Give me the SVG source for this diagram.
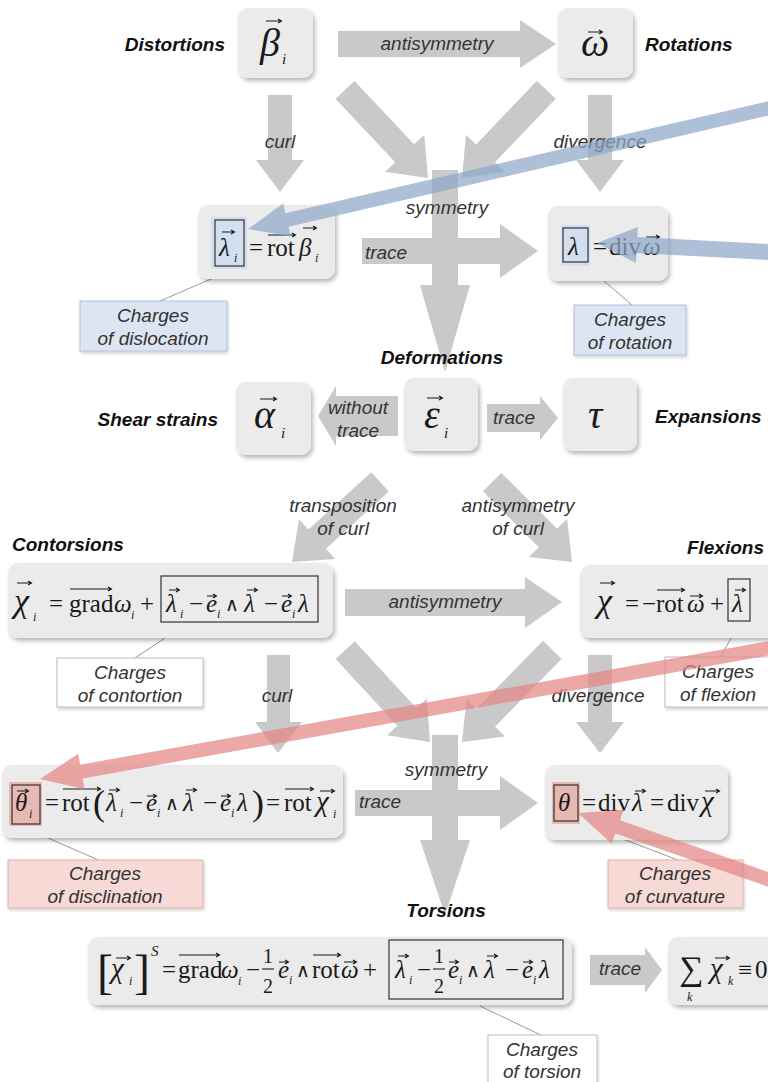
<svg xmlns="http://www.w3.org/2000/svg" width="768" height="1082" viewBox="0 0 768 1082">
<defs>
<filter id="sh" x="-10%" y="-10%" width="125%" height="130%"><feDropShadow dx="2" dy="3" stdDeviation="2" flood-color="#000" flood-opacity="0.28"/></filter>
<filter id="sh2" x="-10%" y="-10%" width="125%" height="130%"><feDropShadow dx="1" dy="2" stdDeviation="1.5" flood-color="#000" flood-opacity="0.18"/></filter>
<style>
.node{fill:#ebebeb;filter:url(#sh)}
.ga{fill:#c9c9c9}
.ba{fill:#8ea8c8;opacity:0.72}
.ra{fill:#e58585;opacity:0.72}
.lbl{font-family:"Liberation Sans",Arial,sans-serif;font-style:italic;font-size:19px;fill:#333;text-anchor:middle}
.ttl{font-family:"Liberation Sans",Arial,sans-serif;font-style:italic;font-weight:bold;font-size:19px;fill:#111}
.m{font-family:"Liberation Serif","Times New Roman",serif;font-size:25px;fill:#1a1a1a}
.w{font-family:"DejaVu Serif","Liberation Serif",serif;font-size:19px;fill:#1a1a1a}
.i{font-style:italic}
.s{font-family:"Liberation Serif","Times New Roman",serif;font-size:12px;font-style:italic;fill:#1a1a1a}
.big{font-size:40px}
.x{font-size:34px}
.xs{font-size:29px}
.br{font-size:48px}
.fr{font-size:20px}
.s15{font-size:15px}
.par{font-size:36px}
.vec{stroke:#1a1a1a;stroke-width:1.1;fill:none}
.bx{fill:none;stroke:#333;stroke-width:1.2}
.lead{stroke:#9a9a9a;stroke-width:1;fill:none}
.cb{fill:#dde5f2;stroke:#b3c0d8;stroke-width:1;filter:url(#sh2)}
.cw{fill:#fff;stroke:#bdbdbd;stroke-width:1;filter:url(#sh2)}
.cp{fill:#f7d9d6;stroke:#e0b2ad;stroke-width:1;filter:url(#sh2)}
</style>
</defs>
<rect width="768" height="1082" fill="#fff"/>

<g id="connectors">
<polygon class="ga" points="338,31 520,31 520,20 556,44 520,68 520,57 338,57"/>
<polygon class="ga" points="268,95 292,95 292,160 304,160 280,192 256,160 268,160"/>
<polygon class="ga" points="588,95 612,95 612,160 624,160 600,192 576,160 588,160"/>
<polygon class="ga" transform="translate(428,178) rotate(46.7)" points="-121,-13 -34,-13 -34,-27 0,0 -34,27 -34,13 -121,13"/>
<polygon class="ga" transform="translate(462,178) rotate(133.7)" points="-122,-13 -34,-13 -34,-27 0,0 -34,27 -34,13 -122,13"/>
<polygon class="ga" points="362,238 500,238 500,224 538,251 500,278 500,264 362,264"/>
<polygon class="ga" points="432,170 458,170 458,285 470,285 445,372 420,285 432,285"/>
<polygon class="ga" points="398,396 398,436 336,436 336,446 318,416 336,386 336,396"/>
<polygon class="ga" points="487,404 540,404 540,396 558,418 540,440 540,432 487,432"/>
<polygon class="ga" transform="translate(292,562) rotate(137.7)" points="-119,-13 -34,-13 -34,-27 0,0 -34,27 -34,13 -119,13"/>
<polygon class="ga" transform="translate(572,562) rotate(45)" points="-113,-13 -34,-13 -34,-27 0,0 -34,27 -34,13 -113,13"/>
<polygon class="ga" points="345,589 525,589 525,577 562,602 525,628 525,616 345,616"/>
<polygon class="ga" points="267,655 290,655 290,722 302,722 278,753 255,722 267,722"/>
<polygon class="ga" points="588,655 612,655 612,722 624,722 600,753 576,722 588,722"/>
<polygon class="ga" transform="translate(430,742) rotate(47.3)" points="-125,-13 -34,-13 -34,-27 0,0 -34,27 -34,13 -125,13"/>
<polygon class="ga" transform="translate(462,742) rotate(134.4)" points="-129,-13 -34,-13 -34,-27 0,0 -34,27 -34,13 -129,13"/>
<polygon class="ga" points="355,790 500,790 500,776 538,803 500,830 500,816 355,816"/>
<polygon class="ga" points="432,735 458,735 458,840 470,840 445,915 420,840 432,840"/>
<polygon class="ga" points="590,955 645,955 645,947 662,970 645,993 645,985 590,985"/>
<path class="lead" d="M218,276 L160,301 M582,262 L632,305 M186,624 L135,658 M740,622 L720,658 M25,828 L103,862 M578,822 L678,860 M480,1006 L545,1037"/>
<text class="lbl" x="437" y="50">antisymmetry</text>
<text class="lbl" x="280" y="148">curl</text>
<text class="lbl" x="600" y="148">divergence</text>
<text class="lbl" x="447" y="214">symmetry</text>
<text class="lbl" x="386" y="259">trace</text>
<text class="lbl" x="358" y="414">without</text>
<text class="lbl" x="358" y="437">trace</text>
<text class="lbl" x="514" y="424">trace</text>
<text class="lbl" x="343" y="512">transposition</text>
<text class="lbl" x="343" y="535">of curl</text>
<text class="lbl" x="518" y="512">antisymmetry</text>
<text class="lbl" x="518" y="535">of curl</text>
<text class="lbl" x="445" y="608">antisymmetry</text>
<text class="lbl" x="277" y="702">curl</text>
<text class="lbl" x="598" y="702">divergence</text>
<text class="lbl" x="446" y="776">symmetry</text>
<text class="lbl" x="380" y="808">trace</text>
<text class="lbl" x="620" y="975">trace</text>
</g>

<g id="distortions">
<text class="ttl" x="225" y="51" text-anchor="end">Distortions</text>
<rect class="node" x="238" y="8" width="75" height="70" rx="10"/>
<text class="m i big" x="260" y="56">β</text><text class="s s15" x="282" y="64">i</text>
<path class="vec" d="M266,21 H281 M278,19 L281.5,21 L278,23"/>
</g>

<g id="rotations">
<rect class="node" x="558" y="8" width="75" height="70" rx="10"/>
<text class="m i big" x="581" y="56">ω</text>
<path class="vec" d="M588,32 H602 M599,30 L602.5,32 L599,34"/>
<text class="ttl" x="645" y="51">Rotations</text>
</g>

<g id="dislocation-density">
<rect class="node" x="198" y="205" width="137" height="74" rx="10"/>
<rect x="211" y="217" width="36" height="52" fill="#d3deef"/>
<rect class="bx" x="215" y="220" width="29" height="46"/>
<text class="m i" x="219" y="256">λ</text><text class="s" x="234" y="262">i</text>
<path class="vec" d="M222,232 H234 M231,230 L234.5,232 L231,234"/>
<text class="m" x="249" y="256">=</text>
<text class="m" x="267" y="256">rot</text>
<path class="vec" d="M268,235 H295 M292,233 L295.5,235 L292,237"/>
<text class="m i" x="299" y="256">β</text><text class="s" x="315" y="262">i</text>
<path class="vec" d="M303,228 H316 M313,226 L316.5,228 L313,230"/>
</g>

<g id="rotation-density">
<rect class="node" x="548" y="206" width="120" height="75" rx="10"/>
<rect x="561" y="225" width="29" height="41" fill="#d3deef"/>
<rect class="bx" x="563" y="228" width="25" height="34"/>
<text class="m i" x="568" y="255">λ</text>
<text class="m" x="593" y="255" fill="#777">=</text>
<text class="m" x="609" y="255" fill="#777">div</text>
<text class="m i" x="643" y="255" fill="#777">ω</text>
<path class="vec" d="M646,237 H659 M656,235 L659.5,237 L656,239"/>
</g>

<g id="charges-dislocation">
<rect class="cb" x="80" y="301" width="147" height="50"/>
<text class="lbl" x="153" y="322">Charges</text>
<text class="lbl" x="153" y="345">of dislocation</text>
</g>

<g id="charges-rotation">
<rect class="cb" x="574" y="305" width="112" height="50"/>
<text class="lbl" x="630" y="326">Charges</text>
<text class="lbl" x="630" y="349">of rotation</text>
</g>

<g id="deformations">
<text class="ttl" x="442" y="364" text-anchor="middle">Deformations</text>
<rect class="node" x="404" y="378" width="74" height="73" rx="10"/>
<text class="m i big" x="424" y="428">ε</text><text class="s s15" x="444" y="438">i</text>
<path class="vec" d="M427,398 H442 M439,396 L442.5,398 L439,400"/>
</g>

<g id="shear-strains">
<text class="ttl" x="218" y="426" text-anchor="end">Shear strains</text>
<rect class="node" x="236" y="382" width="75" height="73" rx="10"/>
<text class="m i big" x="254" y="428">α</text><text class="s s15" x="281" y="438">i</text>
<path class="vec" d="M260,399 H276 M273,397 L276.5,399 L273,401"/>
</g>

<g id="expansions">
<rect class="node" x="563" y="378" width="74" height="73" rx="10"/>
<text class="m i big" x="588" y="428">τ</text>
<text class="ttl" x="655" y="423">Expansions</text>
</g>

<g id="contorsions">
<text class="ttl" x="12" y="551">Contorsions</text>
<rect class="node" x="8" y="563" width="325" height="75" rx="10"/>
<text class="m i x" x="14" y="612">χ</text><text class="s" x="33" y="621">i</text>
<path class="vec" d="M17,583 H31 M28,581 L31.5,583 L28,585"/>
<text class="m" x="49" y="612">=</text>
<text class="m" x="69" y="612">grad</text>
<path class="vec" d="M70,589 H111 M108,587 L111.5,589 L108,591"/>
<text class="m i" x="114" y="612">ω</text><text class="s" x="131" y="619">i</text>
<text class="m" x="140" y="612">+</text>
<rect class="bx" x="161" y="576" width="157" height="46"/>
<text class="m i" x="166" y="612">λ</text><text class="s" x="180" y="618">i</text>
<path class="vec" d="M169,590 H179 M176,588 L179.5,590 L176,592"/>
<text class="m" x="189" y="612">−</text>
<text class="m i" x="206" y="612">e</text><text class="s" x="217" y="618">i</text>
<path class="vec" d="M207,596 H216 M213,594 L216.5,596 L213,598"/>
<text class="w" x="225" y="611">∧</text>
<text class="m i" x="244" y="612">λ</text>
<path class="vec" d="M247,590 H257 M254,588 L257.5,590 L254,592"/>
<text class="m" x="264" y="612">−</text>
<text class="m i" x="281" y="612">e</text><text class="s" x="292" y="618">i</text>
<path class="vec" d="M282,596 H291 M288,594 L291.5,596 L288,598"/>
<text class="m i" x="298" y="612">λ</text>
</g>

<g id="flexions">
<text class="ttl" x="764" y="554" text-anchor="end">Flexions</text>
<rect class="node" x="580" y="565" width="200" height="73" rx="10"/>
<text class="m i x" x="597" y="612">χ</text>
<path class="vec" d="M600,583 H614 M611,581 L614.5,583 L611,585"/>
<text class="m" x="625" y="612">=</text>
<text class="m" x="642" y="612">−</text>
<text class="m" x="656" y="612">rot</text>
<path class="vec" d="M657,590 H684 M681,588 L684.5,590 L681,592"/>
<text class="m i" x="687" y="612">ω</text>
<path class="vec" d="M690,596 H702 M699,594 L702.5,596 L699,598"/>
<text class="m" x="710" y="612">+</text>
<rect class="bx" x="728" y="579" width="22" height="42"/>
<text class="m i" x="732" y="612">λ</text>
<path class="vec" d="M735,590 H745 M742,588 L745.5,590 L742,592"/>
</g>

<g id="charges-contortion">
<rect class="cw" x="57" y="658" width="146" height="49"/>
<text class="lbl" x="130" y="679">Charges</text>
<text class="lbl" x="130" y="702">of contortion</text>
</g>

<g id="charges-flexion">
<rect class="cw" x="665" y="657" width="110" height="50"/>
<text class="lbl" x="718" y="678">Charges</text>
<text class="lbl" x="718" y="701">of flexion</text>
</g>

<g id="disclination-density">
<rect class="node" x="2" y="765" width="341" height="73" rx="10"/>
<rect x="9" y="782" width="33" height="44" fill="#e8b9b3"/>
<rect class="bx" x="12" y="785" width="28" height="39"/>
<text class="m i" x="15" y="811">θ</text><text class="s" x="29" y="818">i</text>
<path class="vec" d="M17,791 H28 M25,789 L28.5,791 L25,793"/>
<text class="m" x="45" y="811">=</text>
<text class="m" x="62" y="811">rot</text>
<path class="vec" d="M63,789 H100 M97,787 L100.5,789 L97,791"/>
<text class="m par" x="93" y="815">(</text>
<text class="m i" x="106" y="811">λ</text><text class="s" x="120" y="817">i</text>
<path class="vec" d="M109,790 H119 M116,788 L119.5,790 L116,792"/>
<text class="m" x="129" y="811">−</text>
<text class="m i" x="146" y="811">e</text><text class="s" x="157" y="817">i</text>
<path class="vec" d="M147,796 H156 M153,794 L156.5,796 L153,798"/>
<text class="w" x="165" y="810">∧</text>
<text class="m i" x="183" y="811">λ</text>
<path class="vec" d="M186,790 H196 M193,788 L196.5,790 L193,792"/>
<text class="m" x="203" y="811">−</text>
<text class="m i" x="220" y="811">e</text><text class="s" x="231" y="817">i</text>
<path class="vec" d="M221,796 H230 M227,794 L230.5,796 L227,798"/>
<text class="m i" x="237" y="811">λ</text>
<text class="m par" x="252" y="815">)</text>
<text class="m" x="266" y="811">=</text>
<text class="m" x="284" y="811">rot</text>
<path class="vec" d="M285,789 H313 M310,787 L313.5,789 L310,791"/>
<text class="m i xs" x="316" y="811">χ</text><text class="s" x="333" y="818">i</text>
<path class="vec" d="M320,791 H334 M331,789 L334.5,791 L331,793"/>
</g>

<g id="curvature-density">
<rect class="node" x="545" y="765" width="183" height="75" rx="10"/>
<rect x="552" y="782" width="28" height="42" fill="#e8b9b3"/>
<rect class="bx" x="554" y="785" width="24" height="36"/>
<text class="m i" x="558" y="811">θ</text>
<text class="m" x="582" y="811">=</text>
<text class="m" x="598" y="811">div</text>
<text class="m i" x="632" y="811">λ</text>
<path class="vec" d="M635,791 H645 M642,789 L645.5,791 L642,793"/>
<text class="m" x="650" y="811">=</text>
<text class="m" x="667" y="811">div</text>
<text class="m i xs" x="701" y="811">χ</text>
<path class="vec" d="M705,791 H719 M716,789 L719.5,791 L716,793"/>
</g>

<g id="charges-disclination">
<rect class="cp" x="8" y="860" width="195" height="48"/>
<text class="lbl" x="105" y="880">Charges</text>
<text class="lbl" x="105" y="903">of disclination</text>
</g>

<g id="charges-curvature">
<rect class="cp" x="608" y="860" width="135" height="48"/>
<text class="lbl" x="675" y="880">Charges</text>
<text class="lbl" x="675" y="903">of curvature</text>
</g>

<g id="torsions">
<text class="ttl" x="446" y="917" text-anchor="middle">Torsions</text>
<rect class="node" x="88" y="937" width="484" height="68" rx="10"/>
<text class="m br" x="97" y="988">[</text>
<text class="m i xs" x="111" y="978">χ</text><text class="s" x="129" y="985">i</text>
<path class="vec" d="M116,958 H130 M127,956 L130.5,958 L127,960"/>
<text class="m br" x="134" y="988">]</text>
<text class="s s15" x="151" y="956">S</text>
<text class="m" x="162" y="978">=</text>
<text class="m" x="178" y="978">grad</text>
<path class="vec" d="M179,955 H219 M216,953 L219.5,955 L216,957"/>
<text class="m i" x="221" y="978">ω</text><text class="s" x="238" y="985">i</text>
<text class="m" x="246" y="978">−</text>
<text class="m fr" x="263" y="963">1</text>
<path class="vec" d="M262,969 H274"/>
<text class="m fr" x="263" y="993">2</text>
<text class="m i" x="278" y="978">e</text><text class="s" x="289" y="984">i</text>
<path class="vec" d="M279,962 H288 M285,960 L288.5,962 L285,964"/>
<text class="w" x="296" y="977">∧</text>
<text class="m" x="312" y="978">rot</text>
<path class="vec" d="M313,955 H340 M337,953 L340.5,955 L337,957"/>
<text class="m i" x="341" y="978">ω</text>
<path class="vec" d="M344,962 H356 M353,960 L356.5,962 L353,964"/>
<text class="m" x="363" y="978">+</text>
<rect class="bx" x="389" y="940" width="174" height="59"/>
<text class="m i" x="395" y="978">λ</text><text class="s" x="409" y="984">i</text>
<path class="vec" d="M398,956 H408 M405,954 L408.5,956 L405,958"/>
<text class="m" x="417" y="978">−</text>
<text class="m fr" x="434" y="963">1</text>
<path class="vec" d="M433,969 H445"/>
<text class="m fr" x="434" y="993">2</text>
<text class="m i" x="448" y="978">e</text><text class="s" x="459" y="984">i</text>
<path class="vec" d="M449,962 H458 M455,960 L458.5,962 L455,964"/>
<text class="w" x="466" y="977">∧</text>
<text class="m i" x="484" y="978">λ</text>
<path class="vec" d="M487,956 H497 M494,954 L497.5,956 L494,958"/>
<text class="m" x="505" y="978">−</text>
<text class="m i" x="522" y="978">e</text><text class="s" x="533" y="984">i</text>
<path class="vec" d="M523,962 H532 M529,960 L532.5,962 L529,964"/>
<text class="m i" x="539" y="978">λ</text>
</g>

<g id="trace-zero">
<rect class="node" x="668" y="937" width="110" height="68" rx="10"/>
<text class="m x" x="679" y="980">∑</text>
<text class="s" x="687" y="1001">k</text>
<text class="m i xs" x="710" y="978">χ</text><text class="s" x="728" y="985">k</text>
<path class="vec" d="M715,958 H729 M726,956 L729.5,958 L726,960"/>
<text class="m" x="738" y="978">≡</text>
<text class="m" x="755" y="978">0</text>
</g>

<g id="charges-torsion">
<rect class="cw" x="488" y="1035" width="109" height="50"/>
<text class="lbl" x="542" y="1056">Charges</text>
<text class="lbl" x="542" y="1078">of torsion</text>
</g>

<g id="highlight-connectors">
<polygon class="ba" transform="translate(248,229) rotate(166.95)" points="-536,-7 -40,-7 -40,-17 0,0 -40,17 -40,7 -536,7"/>
<polygon class="ba" transform="translate(597,243) rotate(183)" points="-175,-8 -40,-8 -40,-18 0,0 -40,18 -40,8 -175,8"/>
<polygon class="ra" transform="translate(40,779) rotate(169.83)" points="-745,-7 -42,-7 -42,-18 0,0 -42,18 -42,7 -745,7"/>
<polygon class="ra" transform="translate(578,813) rotate(199.24)" points="-206,-7 -42,-7 -42,-18 0,0 -42,18 -42,7 -206,7"/>
</g>
</svg>
